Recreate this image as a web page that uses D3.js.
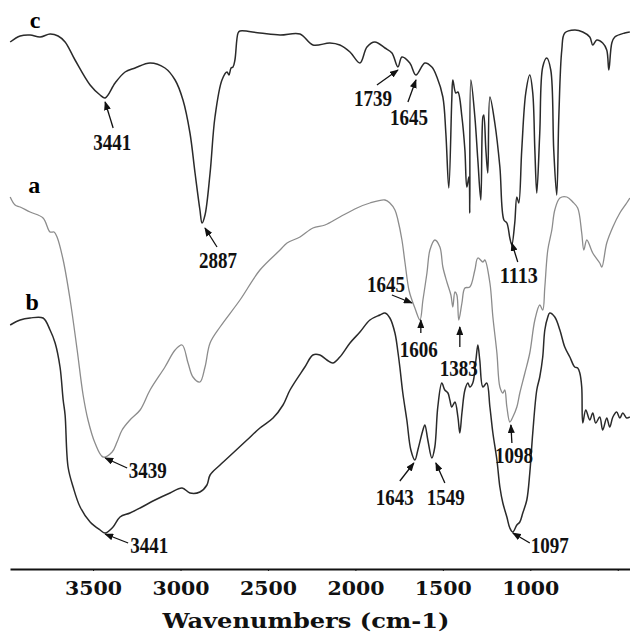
<!DOCTYPE html>
<html>
<head>
<meta charset="utf-8">
<script src="https://cdn.jsdelivr.net/npm/d3@7"></script>
<style>
  body { margin: 0; background: #fff; }
</style>
</head>
<body>
<div id="my_dataviz"></div>
<script>
// spectrum c (top)
var waveC = [3974,3917,3860,3803,3746,3700,3660,3603,3517,3460,3431,3374,3317,3260,3174,3089,3031,2986,2946,2917,2889,2877,2860,2831,2803,2763,2734,2723,2711,2700,2689,2671,2660,2546,2431,2317,2243,2146,2089,2031,1974,1934,1889,1831,1791,1757,1734,1689,1654,1603,1563,1534,1500,1483,1466,1449,1443,1426,1414,1391,1374,1363,1351,1346,1340,1317,1300,1283,1271,1266,1254,1243,1231,1203,1174,1151,1134,1117,1106,1089,1077,1066,1049,1026,1003,986,974,963,946,929,906,883,866,849,837,820,803,746,700,660,643,620,586,563,551,534,517,460,431];
var transC = [105.6,106.8,107,106.6,107.2,106.8,105.6,102,97,95,94.4,97.4,99.6,100.4,101.4,100.4,98,94,87.4,79.4,72,69.4,71,79.4,90.6,98,99.6,99,100.4,100.6,102,107.4,107.8,107.4,107,107.2,105,105.4,105,103.6,101.4,104.6,105.6,104.4,103.4,100.6,102.6,101.4,99,101.4,100.6,98.6,94.6,87.4,76.4,94,98,95.4,95.6,90.6,84,76.6,78.6,71.4,98,90.6,82,74,90.6,91,84,79.4,94.6,89.4,80.6,70,69.4,66.4,65,69.4,74.6,73.4,84,95.4,99,95.4,84,75.4,87.4,100.6,102.4,100,84,75,90.6,104,107.4,108,107.6,106.6,105,106,105.4,104,100,105.4,106.6,107.4,107.6];

// spectrum a (middle, grey)
var waveA = [3974,3946,3917,3860,3786,3746,3723,3706,3671,3631,3591,3557,3529,3489,3443,3391,3363,3334,3289,3231,3174,3089,3031,2991,2957,2929,2889,2860,2831,2774,2660,2546,2431,2391,2317,2243,2174,2089,1991,1917,1831,1803,1774,1757,1734,1717,1694,1677,1660,1631,1614,1591,1574,1546,1517,1500,1477,1454,1443,1431,1420,1409,1391,1374,1346,1317,1300,1271,1260,1231,1214,1191,1174,1157,1146,1134,1117,1100,1077,1060,1031,1003,974,946,929,917,900,877,860,831,791,757,729,706,694,677,643,603,591,563,528,488,449,431];
var transA = [74.6,73,72.6,71.6,70.4,67.6,67.6,66.6,62,54,44,35,30,25.4,22.6,23.6,25.6,28,30,32,36,40.6,44,45,41.4,38.6,37.6,40.6,45.4,48.6,54,60,64,65.4,66.6,68.4,69,70.6,72.4,73.4,74,73.4,72,70,66,61.6,56,54,52.4,50,54,59.4,64,66,64.6,60.6,57.6,55,52.6,55.6,55,50,53.4,56.4,56.6,60,62.4,61.6,62,57.4,50.6,43.4,36.6,35.4,36,32.6,29.6,30.6,32.6,35.4,39.4,43.4,50,53,52,56.6,64,68,72,74.4,74.6,73.6,72.4,67.4,64,66,63.4,61.4,60.6,65.4,68.6,71.4,73.4,74.4];

// spectrum b (bottom)
var waveB = [3974,3917,3860,3786,3746,3717,3689,3671,3660,3643,3614,3574,3517,3460,3431,3386,3346,3289,3231,3146,3060,2991,2946,2889,2849,2831,2774,2700,2620,2546,2471,2414,2374,2289,2243,2203,2163,2129,2089,2031,1974,1917,1860,1831,1803,1774,1757,1746,1729,1706,1683,1660,1643,1614,1603,1586,1563,1546,1529,1506,1489,1471,1460,1449,1431,1414,1403,1391,1374,1357,1346,1329,1311,1300,1289,1271,1249,1231,1214,1191,1174,1157,1134,1117,1100,1077,1060,1043,1020,1003,986,963,946,929,917,900,889,860,831,803,774,746,729,717,706,700,683,660,643,626,603,586,563,546,528,506,488,471,449,431];
var transB = [49,50,50.4,50.4,48,45.4,40.6,34,31,20.6,16.6,12.6,9.6,8,7.4,8.6,10.6,11.4,12.4,14,15.4,16.4,15.4,15.6,17,19,21,23.4,26,28.4,30.4,33,36,40.6,43,43,42,41.4,42.6,45.4,47.6,50,51,51.4,50.4,47.4,43.6,40.6,35.4,30,24,22,24,28,29,26,22.4,24.6,32.6,37.4,36,35.4,34,32.6,33.6,30.6,27.4,31.4,36,37.4,36.6,37.4,42,45,42,36.6,37.4,32.6,27.4,22,16.6,13.4,10.6,8.4,7.6,9,9.6,11.4,14,19.4,27.4,36,38.6,42.6,48,50.6,51.4,50.6,48,44.6,42.6,40.6,40.4,39.4,36.6,29.4,32,30,31.4,29.4,30.6,28,30.4,28.6,30.6,31.6,30.4,31.4,30.4,30.6];

var tickValues = [3500,3000,2500,2000,1500,1000,500];
var tickLabels = ["3500","3000","2500","2000","1500","1000",""];

// peak annotations: text, tip wavenumber, tip value
var annText = ["3441","2887","1739","1645","1113","1645","1606","1383","1098","3439","3441","1643","1549","1097"];
var annWave = [3431,2860,1757,1654,1106,1677,1626,1403,1111,3431,3431,1666,1540,1100];
var annVal  = [93.6,68.4,100,98,65.4,53.4,50,48.6,29,22.4,7.2,21.4,21.4,7.4];
// tail dx, tail dy, label dx, label dy (pixels from the tip)
var annLayout = [[8,26,7,48],[12,19,13,40],[-21,15,-25,36],[-8,22,-7,45],[6,19,7,40],
  [-20,-8,-26,-11],[0,13,-2,37],[0,20,-1,49],[1,18,3,38],[22,10,42.5,20],
  [23,9,44,19],[-14,18,-19,42],[9,20,10,42],[17,10,37,20]];

var width = 630, height = 632;

var svg = d3.select('#my_dataviz')
  .append('svg')
    .attr('width', width)
    .attr('height', height);

var x = d3.scaleLinear().domain([3975, 430]).range([10, 630]);
var y = d3.scaleLinear().domain([0, 114]).range([570, 0]);

svg.append("defs").append("marker")
    .attr("id", "head")
    .attr("markerUnits", "userSpaceOnUse")
    .attr("markerWidth", 9).attr("markerHeight", 7)
    .attr("refX", 8).attr("refY", 3.5)
    .attr("orient", "auto")
  .append("path")
    .attr("d", "M0,0L9,3.5L0,7z")
    .attr("fill", "#111");

var line = d3.line()
  .curve(d3.curveCatmullRom.alpha(0.5))
  .x(function(d) { return x(d[0]); })
  .y(function(d) { return y(d[1]); });

var series = [
  {name: "c", data: d3.zip(waveC, transC), color: "#2a2a2a", w: 1.5, lab: [25, -14]},
  {name: "a", data: d3.zip(waveA, transA), color: "#8c8c8c", w: 1.3, lab: [24, -4]},
  {name: "b", data: d3.zip(waveB, transB), color: "#2a2a2a", w: 1.5, lab: [22, -15]}
];

series.forEach(function(s) {
  svg.append("path")
    .datum(s.data)
    .attr("fill", "none")
    .attr("stroke", s.color)
    .attr("stroke-width", s.w)
    .attr("stroke-linejoin", "round")
    .attr("d", line);

  svg.append("text")
    .attr("x", x(s.data[0][0]) + s.lab[0])
    .attr("y", y(s.data[0][1]) + s.lab[1])
    .attr("text-anchor", "middle")
    .style("font-family", "'Liberation Serif', serif")
    .style("font-weight", "bold")
    .style("font-size", "24px")
    .text(s.name);
});

// arrows + labels
annText.forEach(function(t, i) {
  var tx = x(annWave[i]), ty = y(annVal[i]), L = annLayout[i];
  svg.append("line")
    .attr("x1", tx + L[0]).attr("y1", ty + L[1])
    .attr("x2", tx).attr("y2", ty)
    .attr("stroke", "#111")
    .attr("stroke-width", 1.3)
    .attr("marker-end", "url(#head)");
  svg.append("text")
    .attr("x", tx + L[2])
    .attr("y", ty + L[3])
    .attr("text-anchor", "middle")
    .attr("textLength", 38)
    .attr("lengthAdjust", "spacingAndGlyphs")
    .style("font-family", "'Liberation Serif', serif")
    .style("font-weight", "bold")
    .style("font-size", "24px")
    .style("fill", "#111")
    .text(t);
});

// x axis
var xAxis = svg.append("g")
  .attr("transform", "translate(0,569)")
  .call(d3.axisBottom(x)
    .tickValues(tickValues)
    .tickFormat(function(d, i) { return tickLabels[i]; })
    .tickSize(2)
    .tickSizeOuter(0));

xAxis.select(".domain").attr("stroke", "#111").attr("stroke-width", 2);
xAxis.selectAll(".tick line").attr("stroke", "#111");
xAxis.selectAll("text")
  .attr("y", 26)
  .attr("dy", 0)
  .attr("textLength", function(d, i) { return tickLabels[i] ? 57 : null; })
  .attr("lengthAdjust", "spacingAndGlyphs")
  .style("font-family", "'DejaVu Serif', serif")
  .style("font-weight", "bold")
  .style("font-size", "18px")
  .style("fill", "#111");

// x-label
svg.append("text")
  .attr("x", 306)
  .attr("y", 628)
  .attr("text-anchor", "middle")
  .attr("textLength", 287)
  .attr("lengthAdjust", "spacingAndGlyphs")
  .style("font-family", "'DejaVu Serif', serif")
  .style("font-weight", "bold")
  .style("font-size", "20px")
  .style("fill", "#111")
  .text("Wavenumbers (cm-1)");
</script>
</body>
</html>
